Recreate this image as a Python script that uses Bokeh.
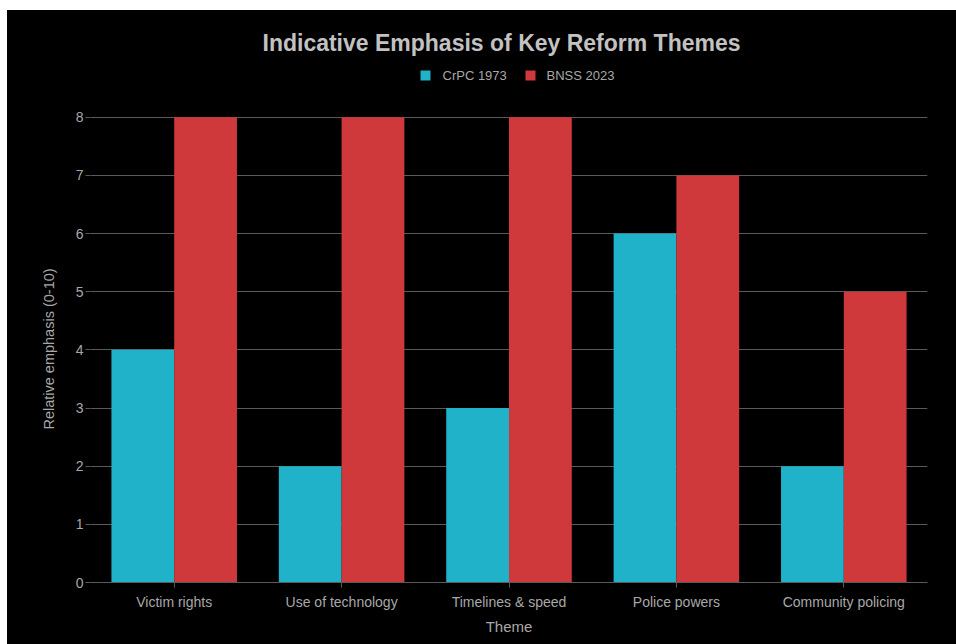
from bokeh.plotting import figure
from bokeh.layouts import column
from bokeh.models import FactorRange, Range1d, FixedTicker
from bokeh.core.properties import value
from bokeh.transform import dodge
from bokeh.embed import file_html
from bokeh.resources import INLINE

themes = ["Victim rights", "Use of technology", "Timelines & speed", "Police powers", "Community policing"]
crpc_1973 = [4, 2, 3, 6, 2]
bnss_2023 = [8, 8, 8, 7, 5]
series_names = ["CrPC 1973", "BNSS 2023"]
y_ticks = [0, 1, 2, 3, 4, 5, 6, 7, 8]
title_text = "Indicative Emphasis of Key Reform Themes"

CYAN = "#20b2c8"
RED = "#d0393c"
GRID = "#5a5a5a"
TXT = "#a8a8a8"
FONT = "Liberation Sans"

# ---- header strip: title and legend; its frame is aligned to the main frame (page x 90..927)
h = figure(width=949, height=100, x_range=Range1d(90, 927), y_range=Range1d(0, 100),
           output_backend="svg", toolbar_location=None, margin=0,
           min_border_left=83, min_border_right=29, min_border_top=0, min_border_bottom=0)
h.axis.visible = False
h.grid.visible = False
h.background_fill_color = "black"
h.border_fill_color = "black"
h.outline_line_color = "black"
h.outline_line_width = 0
h.text(x=[262], y=[68], text=[title_text], text_font=value(FONT),
       text_font_size="23px", text_font_style="bold", text_color="#c2c2c2",
       text_baseline="middle", text_align="left")
h.rect(x=[425, 530], y=[35, 35], width=10, height=10,
       width_units="screen", height_units="screen",
       fill_color=[CYAN, RED], line_color=None)
h.text(x=[442, 546], y=[35, 35], text=series_names, text_font=value(FONT),
       text_font_size="13px", text_color=TXT,
       text_baseline="middle", text_align="left")

# ---- main chart ----
p = figure(
    x_range=FactorRange(*themes), y_range=Range1d(0, 8.03),
    width=949, height=534, output_backend="svg", toolbar_location=None,
    margin=0,
    min_border_left=83, min_border_right=29, min_border_top=5, min_border_bottom=62,
)
p.background_fill_color = "black"
p.border_fill_color = "black"
p.outline_line_color = "black"
p.outline_line_width = 0

src = dict(theme=themes, crpc=crpc_1973, bnss=bnss_2023)
p.vbar(x=dodge("theme", -0.1875, range=p.x_range), top="crpc", width=0.375,
       source=src, fill_color=CYAN, line_color=None)
p.vbar(x=dodge("theme", 0.1875, range=p.x_range), top="bnss", width=0.375,
       source=src, fill_color=RED, line_color=None)

p.xgrid.grid_line_color = None
p.ygrid.grid_line_color = GRID
p.ygrid.ticker = FixedTicker(ticks=y_ticks)

p.yaxis.ticker = FixedTicker(ticks=y_ticks)
p.yaxis.axis_line_color = None
p.yaxis.major_tick_line_color = GRID
p.yaxis.major_tick_out = 5
p.yaxis.major_tick_in = 0
p.yaxis.major_label_standoff = 2
p.yaxis.minor_tick_line_color = None
p.yaxis.major_label_text_color = TXT
p.yaxis.major_label_text_font = FONT
p.yaxis.major_label_text_font_size = "14px"
p.yaxis.axis_label = "Relative emphasis (0-10)"
p.yaxis.axis_label_standoff = 16
p.yaxis.axis_label_text_color = TXT
p.yaxis.axis_label_text_font = FONT
p.yaxis.axis_label_text_font_size = "14.5px"
p.yaxis.axis_label_text_font_style = "normal"

p.xaxis.axis_line_color = GRID
p.xaxis.major_tick_line_color = GRID
p.xaxis.major_tick_out = 5
p.xaxis.major_tick_in = 0
p.xaxis.major_label_standoff = 6
p.xaxis.major_label_text_color = TXT
p.xaxis.major_label_text_font = FONT
p.xaxis.major_label_text_font_size = "14px"
p.xaxis.axis_label = "Theme"
p.xaxis.axis_label_text_color = TXT
p.xaxis.axis_label_text_font = FONT
p.xaxis.axis_label_text_font_size = "15px"
p.xaxis.axis_label_text_font_style = "normal"

layout = column(h, p, spacing=0, margin=(10, 0, 0, 7), styles={"background-color": "black"})
open("out.html", "w").write(file_html(layout, INLINE))
